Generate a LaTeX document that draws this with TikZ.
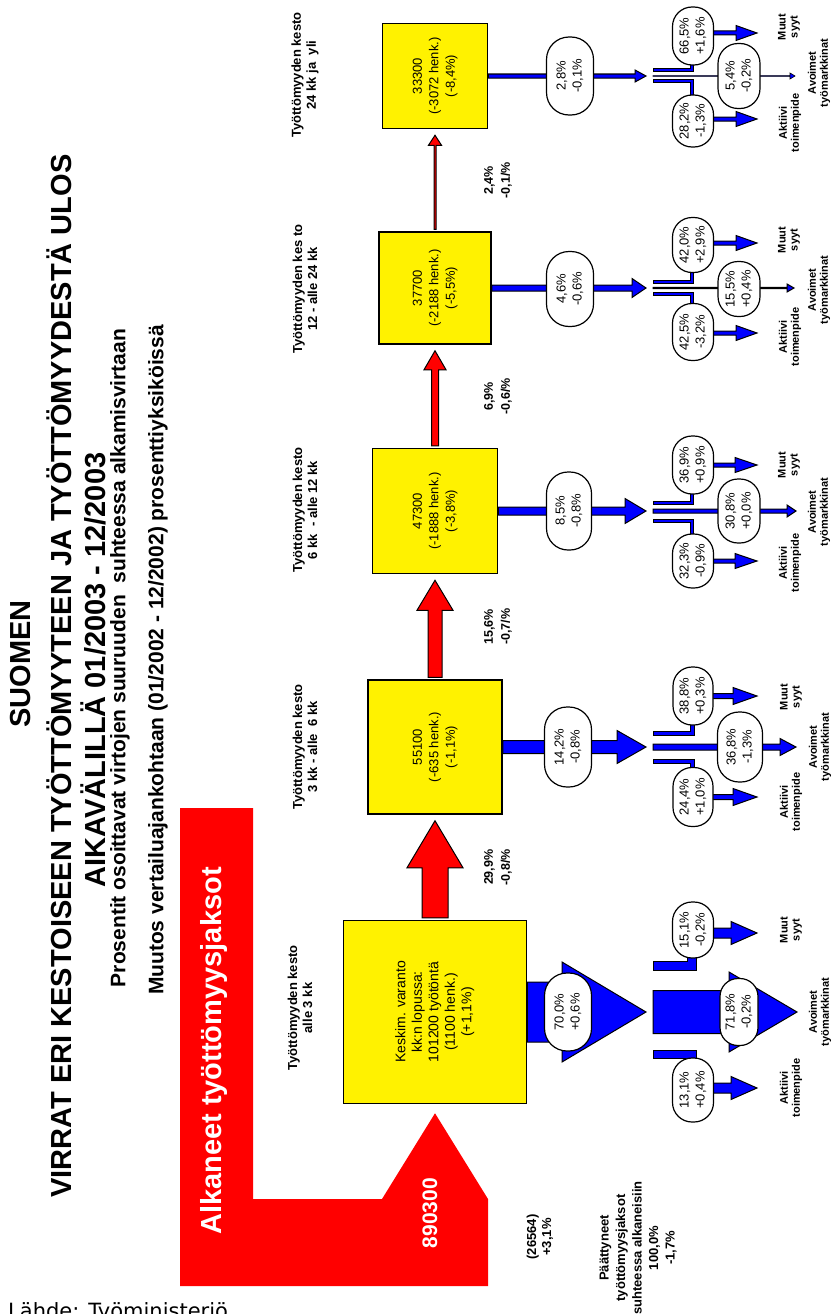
\documentclass[tikz,border=0pt]{standalone}
\usepackage{fontspec}
\setmainfont{Liberation Sans}
\newfontfamily\lahdefont{DejaVu Sans}
\usepackage{graphicx}
\usetikzlibrary{calc, backgrounds}

\newcommand\fs[2]{\fontsize{#1pt}{#2pt}\selectfont}
\newcommand\rot[1]{\rotatebox{90}{\begin{tabular}{@{}c@{}}#1\end{tabular}}}
\newcommand\hflow[6][flow]{%
  \filldraw[#1] ($(#2)+(0,-#4)$) -- ($(#3)+(-#6,-#4)$) -- ($(#3)+(-#6,-#5)$) -- (#3)
    -- ($(#3)+(-#6,#5)$) -- ($(#3)+(-#6,#4)$) -- ($(#2)+(0,#4)$) -- cycle;}
\newcommand\vflow[6][redflow]{%
  \filldraw[#1] ($(#2.north)+(-#4,-2)$) -- ($(#3.south)+(-#4,6+#6)$) -- ($(#3.south)+(-#5,6+#6)$)
    -- ($(#3.south)+(0,6)$) -- ($(#3.south)+(#5,6+#6)$) -- ($(#3.south)+(#4,6+#6)$) -- ($(#2.north)+(#4,-2)$) -- cycle;}
\newcommand\sidebar[3]{%
  \filldraw[flow] (653,#1-#3) -- ({692-sign(#1-#2)*#3},#1-#3) -- ({692-sign(#1-#2)*#3},#2)
    -- ({692+sign(#1-#2)*#3},#2) -- ({692+sign(#1-#2)*#3},#1+#3) -- (653,#1+#3) -- cycle;}

\tikzset{
  box/.style={draw, fill=yellow, line width=1.5pt, inner sep=0pt, minimum size=#1pt},
  flow/.style={fill=blue, draw=black, line width=1pt},
  redflow/.style={fill=red, draw=black, line width=1pt},
  pct/.style 2 args={draw, fill=white, line width=1.2pt, rotate=90, inner sep=0pt, minimum width=#1pt, minimum height=#2pt, rounded corners=#2/2-1, align=center, font=\fs{13}{16}},
  title/.style={rotate=90, inner sep=0pt, font=\bfseries\fs{#1}{#1}},
  kesto/.style={rotate=90, inner sep=0pt, align=center, font=\bfseries\fs{13}{15}},
  rate/.style={rotate=90, inner sep=0pt, align=center, font=\bfseries\fs{12.5}{17}},
  dest/.style={rotate=90, inner sep=0pt, align=center, font=\bfseries\fs{11}{12}}
}

\begin{document}
\begin{tikzpicture}[x=1pt, y=-1pt]
\useasboundingbox (0,0) rectangle (834,1314);

\node[title=29] (t1) at (21,664) {SUOMEN};
\node[title=29] (t2) at (59,676) {VIRRAT ERI KESTOISEEN TYÖTTÖMYYTEEN JA TYÖTTÖMYYDESTÄ ULOS};
\node[title=29] (t3) at (93,670) {AIKAVÄLILLÄ 01/2003 - 12/2003};
\node[title=21] (t4) at (120,658) {Prosentit osoittavat virtojen suuruuden~ suhteessa alkamisvirtaan};
\node[title=21] (t5) at (158,660) {Muutos vertailuajankohtaan (01/2002 - 12/2002) prosenttiyksiköissä};

\node[box=183, font=\fs{14}{16.5}] (b1) at (435,1012) {\rot{Keskim. varanto\\kk:n lopussa:\\101200 työtöntä\\(1100 henk.)\\(+1,1\%)}};
\node[box=134, font=\fs{13}{16.5}] (b2) at (435,747) {\rot{55100\\(-635 henk.)\\(-1,1\%)}};
\node[box=125, font=\fs{13}{16.5}] (b3) at (435,511) {\rot{47300\\(-1888 henk.)\\(-3,8\%)}};
\node[box=112, font=\fs{13}{16.5}] (b4) at (435,288) {\rot{37700\\(-2188 henk.)\\(-5,5\%)}};
\node[box=105, font=\fs{13}{16.5}] (b5) at (435,76) {\rot{33300\\(-3072 henk.)\\(-8,4\%)}};

\node[kesto] (k1) at (300,1008) {Työttömyyden kesto\\alle 3 kk};
\node[kesto] (k2) at (305,747) {Työttömyyden kesto\\3 kk - alle~ 6 kk};
\node[kesto] (k3) at (305,510) {Työttömyyden kesto\\6 kk~ - alle 12 kk};
\node[kesto] (k4) at (305,289) {Työttömyyden kes to\\12 - alle 24 kk};
\node[kesto] (k5) at (305,75) {Työttömyyden kesto\\24 kk ja~ yli};

\node[rate] (r2) at ($(b1.north)!0.5!(b2.south)+(63,0)$) {29,9\%\\-0,8/\%};
\node[rate] (r3) at ($(b2.north)!0.5!(b3.south)+(63,0)$) {15,6\%\\-0,7/\%};
\node[rate] (r4) at ($(b3.north)!0.5!(b4.south)+(63,0)$) {6,9\%\\-0,6/\%};
\node[rate] (r5) at ($(b4.north)!0.5!(b5.south)+(63,0)$) {2,4\%\\-0,1/\%};

\node[title=29, text=white] (alk) at (214,1051) {Alkaneet työttömyysjaksot};
\node[title=21, text=white] (n0) at (430,1213) {890300};
\node[kesto] (n1) at (540,1237) {(26564)\\+3,1\%};
\node[kesto, font=\bfseries\fs{13}{16.5}] (end) at (638,1248) {Päättyneet\\työttömyysjaksot\\suhteessa alkaneisiin\\100,0\%\\-1,7\%};
\node[anchor=base west, inner sep=0pt, font=\lahdefont\fs{21}{24}] (src) at (8,1318) {Lähde: Työministeriö};

\node[pct={78}{47}] (main1) at (568,1012) {70,0\%\\+0,6\%};
\node[pct={67}{38}] (avo1) at (739,1012) {71,8\%\\-0,2\%};
\node[pct={56}{41}] (muut1) at (693,930) {15,1\%\\-0,2\%};
\node[pct={64}{41}] (akt1) at (693,1090) {13,1\%\\+0,4\%};
\node[pct={80}{47}] (main2) at (568,747) {14,2\%\\-0,8\%};
\node[pct={70}{45}] (avo2) at (740,747) {36,8\%\\-1,3\%};
\node[pct={58}{40}] (muut2) at (693,696) {38,8\%\\+0,3\%};
\node[pct={59}{40}] (akt2) at (693,797) {24,4\%\\+1,0\%};
\node[pct={78}{45}] (main3) at (569,511) {8,5\%\\-0,8\%};
\node[pct={64}{42}] (avo3) at (739,511) {30,8\%\\+0,0\%};
\node[pct={58}{41}] (muut3) at (693,465) {36,9\%\\+0,9\%};
\node[pct={54}{41}] (akt3) at (693,561) {32,3\%\\-0,9\%};
\node[pct={75}{47}] (main4) at (570,289) {4,6\%\\-0,6\%};
\node[pct={55}{42}] (avo4) at (739,289) {15,5\%\\+0,4\%};
\node[pct={55}{41}] (muut4) at (693,245) {42,0\%\\+2,9\%};
\node[pct={57}{41}] (akt4) at (693,332) {42,5\%\\-3,2\%};
\node[pct={78}{47}] (main5) at (570,76) {2,8\%\\-0,1\%};
\node[pct={65}{42}] (avo5) at (739,76) {5,4\%\\-0,2\%};
\node[pct={58}{41}] (muut5) at (693,36) {66,5\%\\+1,6\%};
\node[pct={52}{41}] (akt5) at (693,121) {28,2\%\\-1,3\%};

\node[dest] (d11) at (791,930) {Muut\\syyt};
\node[dest] (d12) at (820,1012) {Avoimet\\työmarkkinat};
\node[dest] (d13) at (791,1088) {Aktiivi\\toimenpide};
\node[dest] (d21) at (791,697) {Muut\\syyt};
\node[dest] (d22) at (820,747) {Avoimet\\työmarkkinat};
\node[dest] (d23) at (791,802) {Aktiivi\\toimenpide};
\node[dest] (d31) at (789,465) {Muut\\syyt};
\node[dest] (d32) at (819,512) {Avoimet\\työmarkkinat};
\node[dest] (d33) at (790,563) {Aktiivi\\toimenpide};
\node[dest] (d41) at (789,240) {Muut\\syyt};
\node[dest] (d42) at (819,290) {Avoimet\\työmarkkinat};
\node[dest] (d43) at (790,337) {Aktiivi\\toimenpide};
\node[dest] (d51) at (789,27) {Muut\\syyt};
\node[dest] (d52) at (819,73) {Avoimet\\työmarkkinat};
\node[dest] (d53) at (790,123) {Aktiivi\\toimenpide};

\begin{pgfonlayer}{background}
\fill[red] (180,808) -- (253,808) -- (253,1199) -- (382,1199) -- ($(b1.south)+(0,9)$) -- (488,1199) -- (488,1286) -- (180,1286) -- cycle;
\vflow{b1}{b2}{13}{28}{47}
\vflow{b2}{b3}{7}{18}{30}
\vflow{b3}{b4}{3.5}{11}{19}
\vflow{b4}{b5}{1}{6.5}{10}

\hflow{b1.east}{646,1012}{30}{50}{84}
\hflow{653,1012}{797,1012}{21.5}{40}{68}
\sidebar{966}{930}{4.5}
\sidebar{1054}{1090}{4}
\hflow{693,933}{757,933}{5}{11.5}{26}
\hflow{693,1088}{757,1088}{5}{11.5}{26}

\hflow{b2.east}{646,747}{6.5}{16.5}{29}
\hflow{653,747}{796,747}{3}{8.5}{16}
\sidebar{733}{696}{2}
\sidebar{761}{797}{2}
\hflow{693,696}{757,696}{2.5}{8.5}{24}
\hflow{693,797}{757,797}{2.5}{8.5}{24}

\hflow{b3.east}{646,511}{4}{12.5}{21}
\hflow{653,511}{796,511}{2}{6}{9}
\sidebar{503}{465}{1.5}
\sidebar{521}{561}{1.5}
\hflow{693,465}{757,465}{2}{7.5}{22}
\hflow{693,561}{757,561}{2}{7.5}{22}

\hflow{b4.east}{646,288}{3}{9.5}{14}
\hflow{653,288}{794,288}{0.6}{4}{7}
\sidebar{282}{245}{1.5}
\sidebar{294}{332}{1.5}
\hflow{693,243}{757,243}{2}{7.5}{21}
\hflow{693,333}{757,333}{2}{7.5}{21}

\hflow{b5.east}{646,76}{2}{6}{11}
\hflow[flow, line width=0.6pt]{653,76}{795,76}{0.4}{3}{5}
\sidebar{70}{36}{1.5}
\sidebar{81}{121}{1.5}
\hflow{693,33}{757,33}{2}{7.5}{21}
\hflow{693,119}{757,119}{2}{7.5}{21}
\end{pgfonlayer}
\end{tikzpicture}
\end{document}
